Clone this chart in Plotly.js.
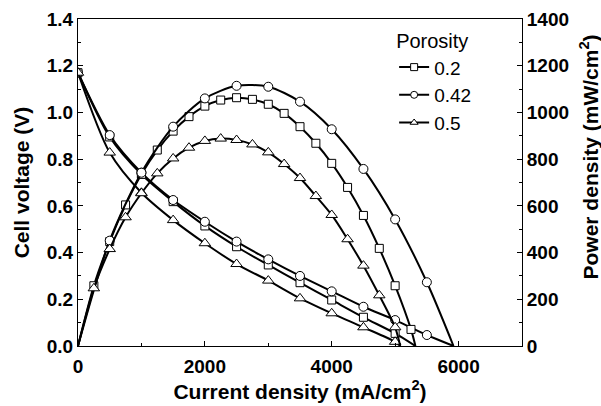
<!DOCTYPE html>
<html><head><meta charset="utf-8">
<script src="https://cdn.plot.ly/plotly-3.0.1.min.js"></script>
<style>body{margin:0;background:#fff}</style>
</head><body><div id="chart" style="width:601px;height:406px"></div>
<script>
// Porosity series
const porosity = ['0.2', '0.42', '0.5'];
const symbols = ['square', 'circle', 'triangle-up'];

// Cell voltage (V) vs current density (mA/cm2), markers
const volt02_I = [0, 500, 1000, 1500, 2000, 2500, 3000, 3500, 4000, 4500, 5000];
const volt02_V = [1.17, 0.895, 0.735, 0.618, 0.514, 0.425, 0.347, 0.271, 0.197, 0.123, 0.054];
const volt042_I = [0, 500, 1000, 1500, 2000, 2500, 3000, 3500, 4000, 4500, 5000, 5500];
const volt042_V = [1.17, 0.903, 0.742, 0.625, 0.532, 0.447, 0.371, 0.300, 0.234, 0.168, 0.111, 0.047];
const volt05_I = [0, 500, 1000, 1500, 2000, 2500, 3000, 3500, 4000, 4500, 5000];
const volt05_V = [1.17, 0.828, 0.656, 0.539, 0.440, 0.351, 0.280, 0.204, 0.140, 0.080, 0.018];

// Power density (mW/cm2) vs current density, markers
const pow02_I = [250, 500, 750, 1000, 1250, 1500, 1750, 2000, 2250, 2500, 2750, 3000, 3250, 3500, 3750, 4000, 4250, 4500, 4750, 5000, 5250];
const pow02_P = [258, 447, 604, 735, 839, 920, 982, 1027, 1053, 1063, 1056, 1035, 996, 939, 868, 782, 679, 559, 418, 258, 71];
const pow042_I = [500, 1000, 1500, 2000, 2500, 3000, 3500, 4000, 4500, 5000, 5500];
const pow042_P = [451, 742, 939, 1060, 1114, 1110, 1046, 928, 758, 542, 273];
const pow05_I = [250, 500, 750, 1000, 1250, 1500, 1750, 2000, 2250, 2500, 2750, 3000, 3250, 3500, 3750, 4000, 4250, 4500, 4750, 5000];
const pow05_P = [247, 415, 551, 654, 739, 803, 849, 878, 888, 882, 863, 829, 779, 719, 642, 561, 457, 344, 217, 80];

// Limiting current density (V = 0, P = 0) for each porosity
const limitI = [5320, 5920, 5080];

const voltI = [volt02_I, volt042_I, volt05_I];
const voltV = [volt02_V, volt042_V, volt05_V];
const powI = [pow02_I, pow042_I, pow05_I];
const powP = [pow02_P, pow042_P, pow05_P];
const markerSizes = [8, 9, 10];

const traces = [];
for (let k = 0; k < 3; k++) {
  const line = {color: '#000', width: 2, shape: 'spline', smoothing: 0.8};
  const mk = {symbol: symbols[k], size: markerSizes[k], color: '#fff', line: {width: 1, color: '#000'}};
  traces.push({x: voltI[k].concat([limitI[k]]), y: voltV[k].concat([0]), mode: 'lines', line: line,
    yaxis: 'y', showlegend: false, hoverinfo: 'skip'});
  traces.push({x: [0].concat(powI[k], [limitI[k]]), y: [0].concat(powP[k], [0]), mode: 'lines', line: line,
    yaxis: 'y2', showlegend: false, hoverinfo: 'skip'});
  traces.push({x: voltI[k], y: voltV[k], mode: 'markers', yaxis: 'y', showlegend: false, marker: mk});
  traces.push({x: powI[k], y: powP[k], mode: 'markers', yaxis: 'y2', showlegend: false, marker: mk});
}
// legend entries
for (let k = 0; k < 3; k++) {
  traces.push({x: [null], y: [null], mode: 'lines+markers', name: porosity[k],
    line: {color: '#000', width: 2},
    marker: {symbol: symbols[k], size: 7, color: '#fff', line: {width: 1, color: '#000'}}});
}

const fam = 'Arial, "Liberation Sans", sans-serif';
const tickFont = {family: fam, size: 19, color: '#000', weight: 'bold'};
const titleFont = {family: fam, size: 21, color: '#000', weight: 'bold'};

const layout = {
  width: 601, height: 406,
  margin: {l: 78, r: 79, t: 19, b: 60, pad: 0},
  paper_bgcolor: '#fff', plot_bgcolor: '#fff',
  showlegend: true,
  legend: {x: 0.712, y: 0.99, xanchor: 'left', yanchor: 'top', bgcolor: 'rgba(0,0,0,0)',
    font: {family: fam, size: 19, color: '#000'},
    title: {text: 'Porosity', font: {family: fam, size: 20, color: '#000'}},
    tracegroupgap: 0},
  xaxis: {range: [0, 7000], dtick: 2000, tick0: 0, ticks: 'inside', ticklen: 5, tickwidth: 1, tickcolor: '#000',
    minor: {dtick: 1000, ticks: 'inside', ticklen: 3, tickcolor: '#000'},
    showline: true, linecolor: '#000', linewidth: 1, mirror: true, showgrid: false, zeroline: false,
    tickfont: tickFont, ticklabelstandoff: 3,
    title: {text: 'Current density (mA/cm<sup>2</sup>)', font: titleFont, standoff: 6}},
  yaxis: {range: [0, 1.4], dtick: 0.2, tick0: 0, tickformat: '.1f', ticks: 'inside', ticklen: 5, tickwidth: 1, tickcolor: '#000',
    minor: {dtick: 0.1, ticks: 'inside', ticklen: 3, tickcolor: '#000'},
    showline: true, linecolor: '#000', linewidth: 1, mirror: true, showgrid: false, zeroline: false,
    tickfont: tickFont,
    title: {text: 'Cell voltage (V)', font: titleFont, standoff: 11}},
  yaxis2: {range: [0, 1400], dtick: 200, tick0: 0, overlaying: 'y', side: 'right', ticks: 'inside', ticklen: 5, tickwidth: 1, tickcolor: '#000',
    minor: {dtick: 100, ticks: 'inside', ticklen: 3, tickcolor: '#000'},
    showline: true, linecolor: '#000', linewidth: 1, showgrid: false, zeroline: false,
    tickfont: tickFont},
  annotations: [{text: 'Power density (mW/cm<sup>2</sup>)', textangle: -90, xref: 'paper', yref: 'paper',
    x: 1.152, y: 0.578, xanchor: 'center', yanchor: 'middle', showarrow: false, font: titleFont}]
};

Plotly.newPlot('chart', traces, layout, {displayModeBar: false, staticPlot: true});
</script>
</body></html>
